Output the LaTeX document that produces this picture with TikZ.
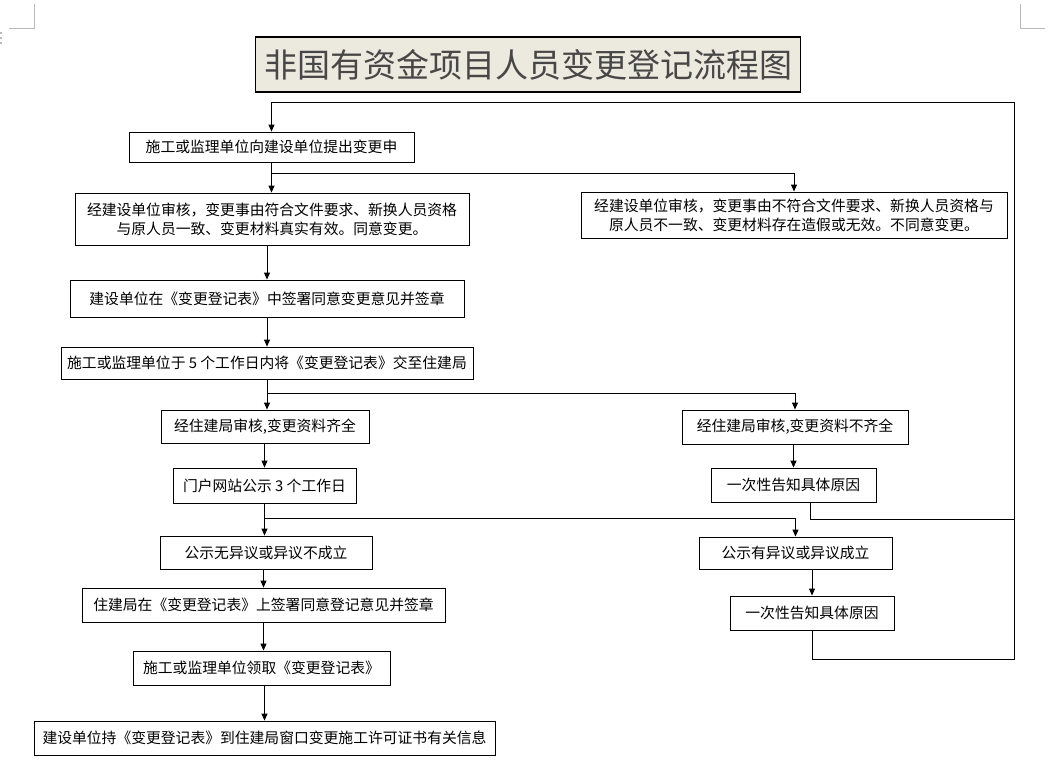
\documentclass[tikz,border=0pt]{standalone}
\usepackage{fontspec}
\setmainfont{Noto Sans CJK SC}
\usetikzlibrary{arrows.meta}
\definecolor{titlebg}{RGB}{236,233,223}
\definecolor{markgray}{RGB}{185,185,185}
\begin{document}
\begin{tikzpicture}[x=1pt,y=-1pt,
  box/.style={draw, line width=0.9pt, inner sep=0pt, align=center, font=\fontsize{14.8}{19}\selectfont},
  arr/.style={-{Triangle[length=7pt,width=6pt]}, line width=0.9pt},
  ln/.style={line width=0.9pt},
  pagemark/.style={draw=markgray, line width=0.8pt}]
\useasboundingbox (0,0) rectangle (1050,766);
% page corner marks
\draw[pagemark] (34.7,4) -- (34.7,28) -- (9,28);
\draw[pagemark] (1020,4) -- (1020,28) -- (1045,28);
\foreach \yy in {33,38,43} \fill[markgray] (0,\yy-0.8) rectangle (1.6,\yy+0.8);
% title
\node[draw, fill=titlebg, line width=1.2pt, minimum width=545pt, minimum height=55pt, inner sep=0pt,
      font=\fontsize{33}{33}\selectfont, text=black!72] (title) at (528,64.5) {非国有资金项目人员变更登记流程图};
% boxes
\node[box, minimum width=285pt, minimum height=30pt] (b1) at (271.5,147) {施工或监理单位向建设单位提出变更申};
\node[box, minimum width=394pt, minimum height=52pt] (b2) at (272,219) {经建设单位审核，变更事由符合文件要求、新换人员资格\\与原人员一致、变更材料真实有效。同意变更。};
\node[box, minimum width=426pt, minimum height=46pt] (b3) at (794,215) {经建设单位审核，变更事由不符合文件要求、新换人员资格与\\原人员不一致、变更材料存在造假或无效。不同意变更。};
\node[box, minimum width=394pt, minimum height=37pt] (b4) at (267,298.5) {建设单位在《变更登记表》中签署同意变更意见并签章};
\node[box, minimum width=412pt, minimum height=32pt] (b5) at (267,363) {施工或监理单位于 5 个工作日内将《变更登记表》交至住建局};
\node[box, minimum width=208pt, minimum height=33pt] (b6) at (265,426.5) {经住建局审核,变更资料齐全};
\node[box, minimum width=226pt, minimum height=34pt] (b7) at (795,427) {经住建局审核,变更资料不齐全};
\node[box, minimum width=183pt, minimum height=35pt] (b8) at (264.5,485.5) {门户网站公示 3 个工作日};
\node[box, minimum width=165pt, minimum height=34pt] (b9) at (793.5,485) {一次性告知具体原因};
\node[box, minimum width=212pt, minimum height=33pt] (b10) at (266,552.5) {公示无异议或异议不成立};
\node[box, minimum width=193pt, minimum height=32pt] (b11) at (795.5,553) {公示有异议或异议成立};
\node[box, minimum width=363pt, minimum height=34pt] (b12) at (263.5,605) {住建局在《变更登记表》上签署同意登记意见并签章};
\node[box, minimum width=164pt, minimum height=34pt] (b13) at (812,613) {一次性告知具体原因};
\node[box, minimum width=257pt, minimum height=34pt] (b14) at (261.5,668) {施工或监理单位领取《变更登记表》};
\node[box, minimum width=461pt, minimum height=34pt] (b15) at (264.5,738) {建设单位持《变更登记表》到住建局窗口变更施工许可证书有关信息};
% helper coordinates
\coordinate (loopTR) at (1014,102);
\coordinate (loopBR) at (1014,659);
\coordinate (j1) at (1014,519);
\coordinate (br1) at (271.5,173);
\coordinate (br2) at (267,393);
\coordinate (br3) at (264.5,518.5);
% main loop back to start
\draw[arr] (b13.south) -- (b13.south |- loopBR) -- (loopBR) -- (loopTR) -- (loopTR -| b1.north) -- (b1.north);
\draw[ln] ([xshift=16.5pt]b9.south) |- (j1);
% left column
\draw[arr] (b1.south) -- (b1.south |- b2.north);
\draw[arr] (br1) -| (b3.north);
\draw[arr] (b4.north |- b2.south) -- (b4.north);
\draw[arr] (b4.south) -- (b4.south |- b5.north);
\draw[arr] (b5.south) -- (b5.south |- b6.north);
\draw[arr] (br2) -| (b7.north);
\draw[arr] (b8.north |- b6.south) -- (b8.north);
\draw[arr] (b8.south) -- (b8.south |- b10.north);
\draw[arr] (br3) -| (b11.north);
\draw[arr] (b12.north |- b10.south) -- (b12.north);
\draw[arr] (b12.south) -- (b12.south |- b14.north);
\draw[arr] (b15.north |- b14.south) -- (b15.north);
% right column
\draw[arr] (b9.north |- b7.south) -- (b9.north);
\draw[arr] (b13.north |- b11.south) -- (b13.north);
\end{tikzpicture}
\end{document}
